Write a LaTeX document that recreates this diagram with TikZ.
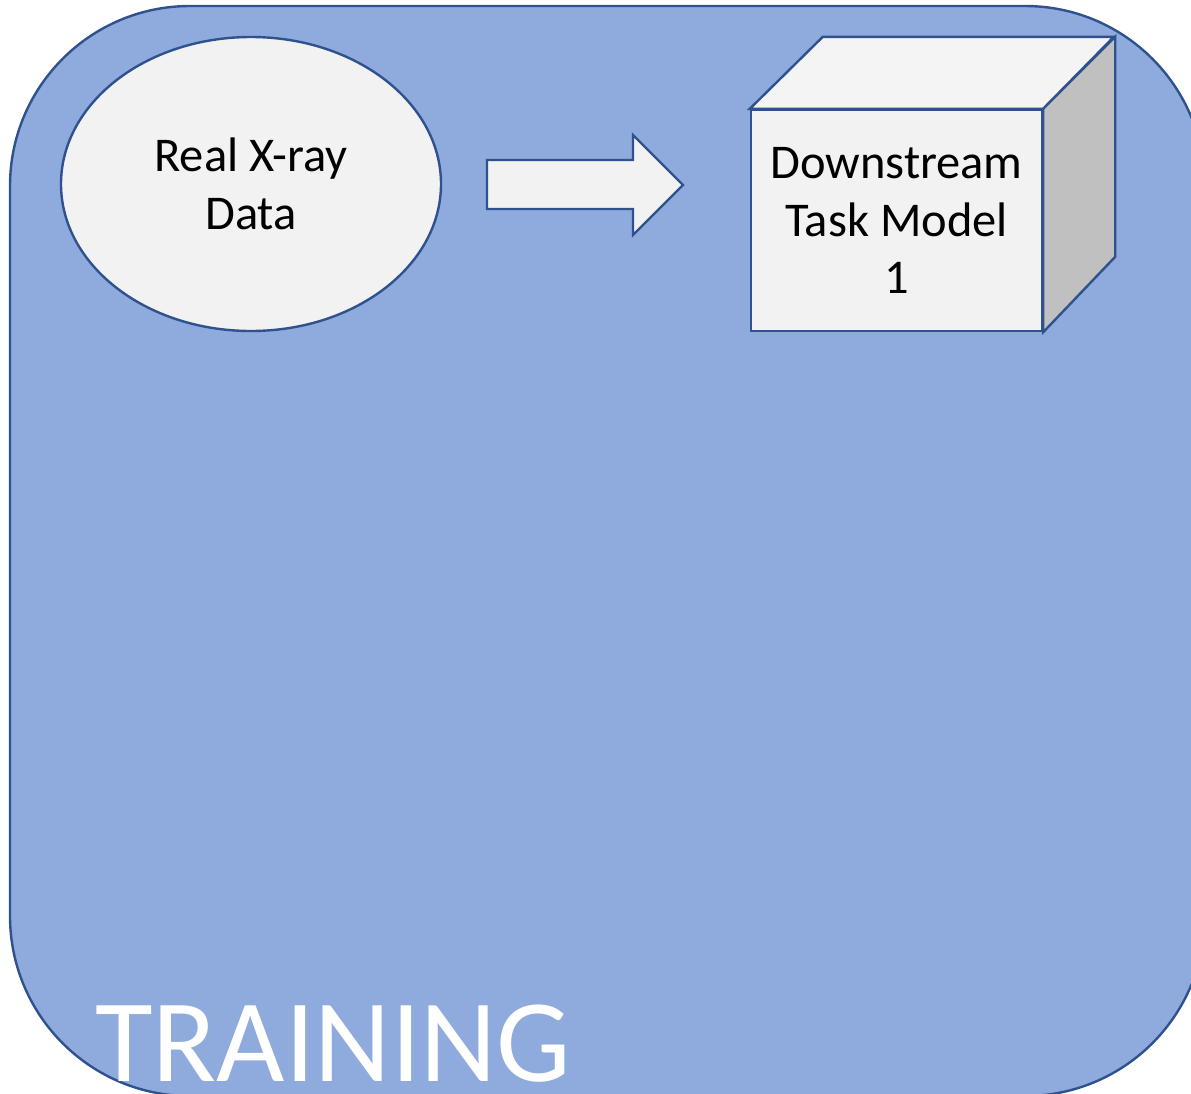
\documentclass[tikz,border=0pt]{standalone}
\usepackage{fontspec}
\setmainfont{Carlito}
\usetikzlibrary{shapes.geometric}
\definecolor{bgblue}{HTML}{8FAADC}
\definecolor{edge}{HTML}{2F528F}
\definecolor{lightfill}{HTML}{F2F2F2}
\definecolor{topfill}{HTML}{F4F4F4}
\definecolor{sidefill}{HTML}{C0C0C0}
\tikzset{
  shapeline/.style={draw=edge, line width=2.4pt, line join=miter},
  lbl/.style={font=\fontsize{48.5}{57.5}\selectfont, align=center, text=black},
}
\begin{document}
\begin{tikzpicture}[x=1pt,y=-1pt]
\useasboundingbox (0,0) rectangle (1191,1093);
\begin{scope}
\clip (0,0) rectangle (1191,1093);
\draw[fill=bgblue, draw=edge, line width=2.4pt, rounded corners=180pt] (10,6) rectangle (1205,1096);
\end{scope}
% ellipse
\node[ellipse, shapeline, fill=lightfill, minimum width=380pt, minimum height=294pt, inner sep=0pt, lbl] (data) at (251,184) {Real X-ray\\Data};
% block arrow
\draw[shapeline, fill=lightfill] (487,160) -- (633,160) -- (633,135) -- (683,185) -- (633,235) -- (633,209) -- (487,209) -- cycle;
% cube
\node[rectangle, shapeline, fill=lightfill, minimum width=291pt, minimum height=221pt, inner sep=0pt, lbl] (model) at (896.5,220.5) {Downstream\\Task Model\\1};
\draw[shapeline, fill=topfill] (model.north west) -- ++(73,-72) -- ++(291,0) -- (model.north east) -- cycle;
\draw[shapeline, fill=sidefill] (model.north east) -- ++(72,-72) -- ++(0,220) -- (model.south east) -- cycle;
% label
\node[anchor=base west, inner sep=0pt, text=white, font=\fontsize{118}{130}\selectfont] (train) at (95,1081) {TRAINING};
\end{tikzpicture}
\end{document}
